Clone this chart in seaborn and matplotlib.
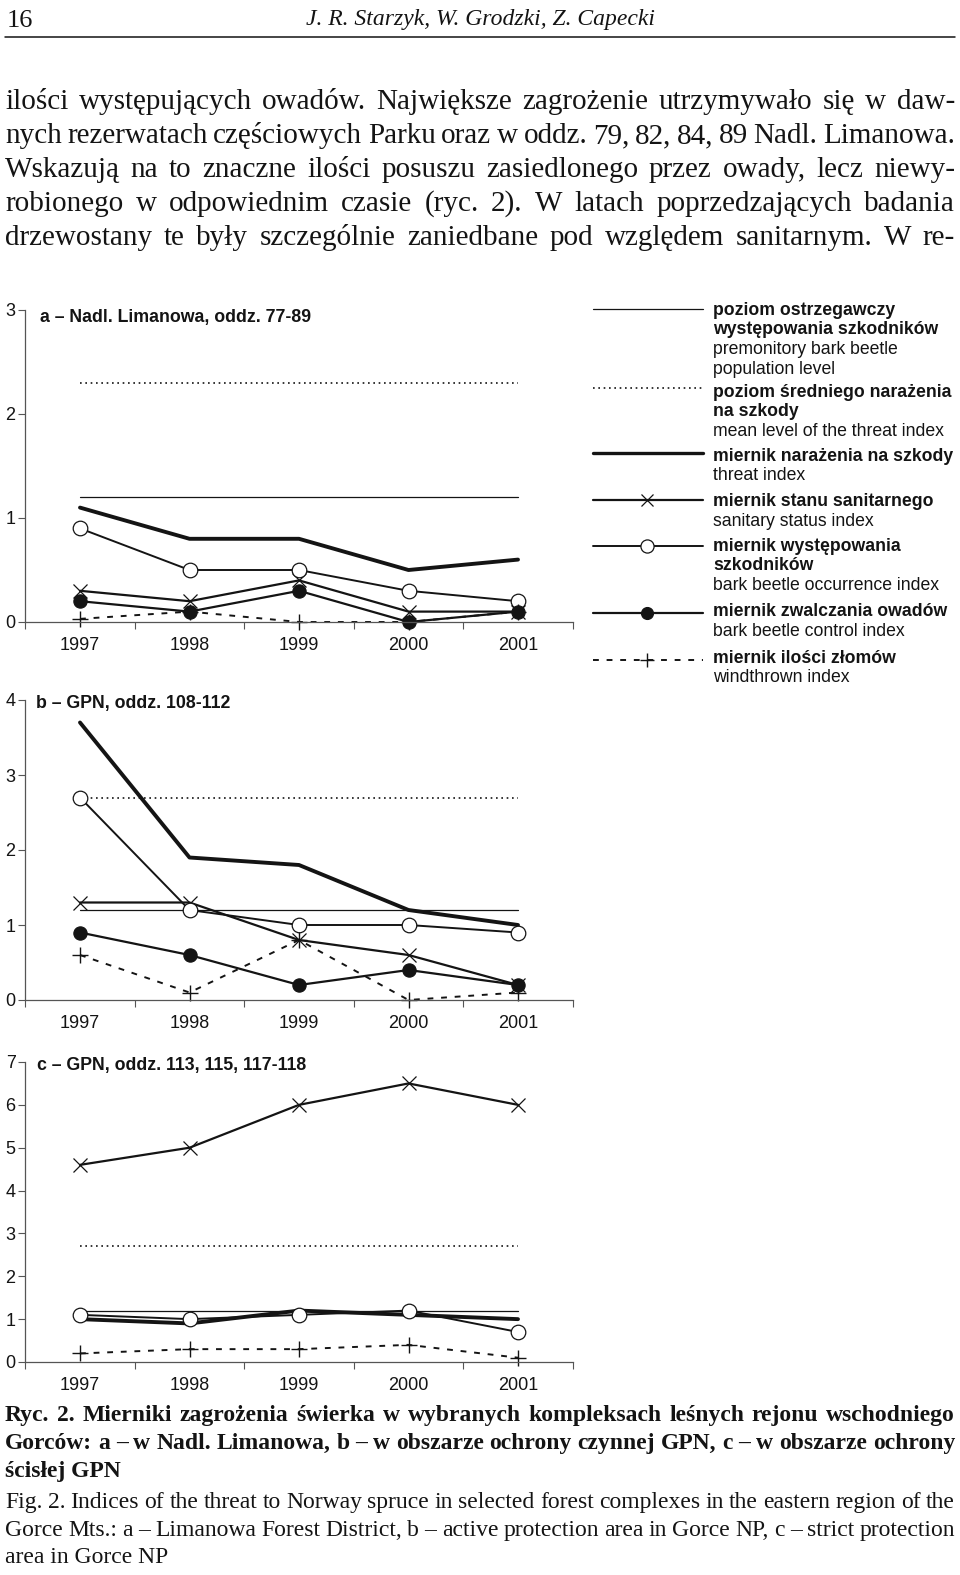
import matplotlib
matplotlib.use('Agg')
import matplotlib.pyplot as plt
import seaborn as sns
import pandas as pd

# ---- data ----
years = [1997, 1998, 1999, 2000, 2001]

a_premonitory = [1.2, 1.2, 1.2, 1.2, 1.2]
a_mean_level = [2.3, 2.3, 2.3, 2.3, 2.3]
a_threat = [1.1, 0.8, 0.8, 0.5, 0.6]
a_sanitary = [0.3, 0.2, 0.4, 0.1, 0.1]
a_occurrence = [0.9, 0.5, 0.5, 0.3, 0.2]
a_control = [0.2, 0.1, 0.3, 0.0, 0.1]
a_windthrown = [0.03, 0.1, 0.0, 0.0, 0.1]

b_premonitory = [1.2, 1.2, 1.2, 1.2, 1.2]
b_mean_level = [2.7, 2.7, 2.7, 2.7, 2.7]
b_threat = [3.7, 1.9, 1.8, 1.2, 1.0]
b_sanitary = [1.3, 1.3, 0.8, 0.6, 0.2]
b_occurrence = [2.7, 1.2, 1.0, 1.0, 0.9]
b_control = [0.9, 0.6, 0.2, 0.4, 0.2]
b_windthrown = [0.6, 0.1, 0.8, 0.0, 0.1]

c_premonitory = [1.2, 1.2, 1.2, 1.2, 1.2]
c_mean_level = [2.7, 2.7, 2.7, 2.7, 2.7]
c_threat = [1.0, 0.9, 1.2, 1.1, 1.0]
c_sanitary = [4.6, 5.0, 6.0, 6.5, 6.0]
c_occurrence = [1.1, 1.0, 1.1, 1.2, 0.7]
c_windthrown = [0.2, 0.3, 0.3, 0.4, 0.1]

panel_titles = ['a – Nadl. Limanowa, oddz. 77-89',
                'b – GPN, oddz. 108-112',
                'c – GPN, oddz. 113, 115, 117-118']
panel_ymax = [3, 4, 7]

para_lines = [
    'ilości występujących owadów. Największe zagrożenie utrzymywało się w daw-',
    'nych rezerwatach częściowych Parku oraz w oddz. 79, 82, 84, 89 Nadl. Limanowa.',
    'Wskazują na to znaczne ilości posuszu zasiedlonego przez owady, lecz niewy-',
    'robionego w odpowiednim czasie (ryc. 2). W latach poprzedzających badania',
    'drzewostany te były szczególnie zaniedbane pod względem sanitarnym. W re-',
]
caption_pl = [
    'Ryc. 2. Mierniki zagrożenia świerka w wybranych kompleksach leśnych rejonu wschodniego',
    'Gorców: a – w Nadl. Limanowa, b – w obszarze ochrony czynnej GPN, c – w obszarze ochrony',
    'ścisłej GPN',
]
caption_en = [
    'Fig. 2. Indices of the threat to Norway spruce in selected forest complexes in the eastern region of the',
    'Gorce Mts.: a – Limanowa Forest District, b – active protection area in Gorce NP, c – strict protection',
    'area in Gorce NP',
]
legend_entries = [
    (['poziom ostrzegawczy', 'występowania szkodników'], ['premonitory bark beetle', 'population level']),
    (['poziom średniego narażenia', 'na szkody'], ['mean level of the threat index']),
    (['miernik narażenia na szkody'], ['threat index']),
    (['miernik stanu sanitarnego'], ['sanitary status index']),
    (['miernik występowania', 'szkodników'], ['bark beetle occurrence index']),
    (['miernik zwalczania owadów'], ['bark beetle control index']),
    (['miernik ilości złomów'], ['windthrown index']),
]

# ---- styling ----
sns.set_style('ticks')
plt.rcParams['font.family'] = ['Liberation Sans', 'DejaVu Sans']
INK = '#141414'

styles = {
    'premonitory': dict(lw=0.9, ls='-', marker=None),
    'mean': dict(lw=1.2, ls=(0, (1, 2.2)), marker=None),
    'threat': dict(lw=2.8, ls='-', marker=None),
    'sanitary': dict(lw=1.6, ls='-', marker='x', ms=9.5, mew=0.9, mfc=INK, mec=INK),
    'occurrence': dict(lw=1.4, ls='-', marker='o', ms=10.5, mew=0.9, mfc='white', mec=INK),
    'control': dict(lw=1.6, ls='-', marker='o', ms=9.5, mew=0.9, mfc=INK, mec=INK),
    'windthrown': dict(lw=1.4, ls=(0, (3, 4)), marker='+', ms=11, mew=1.0, mfc=INK, mec=INK),
}

W, H = 960, 1575
fig = plt.figure(figsize=(W / 100, H / 100), dpi=100)

panels = [
    {'premonitory': a_premonitory, 'mean': a_mean_level, 'threat': a_threat,
     'sanitary': a_sanitary, 'occurrence': a_occurrence, 'control': a_control,
     'windthrown': a_windthrown},
    {'premonitory': b_premonitory, 'mean': b_mean_level, 'threat': b_threat,
     'sanitary': b_sanitary, 'occurrence': b_occurrence, 'control': b_control,
     'windthrown': b_windthrown},
    {'premonitory': c_premonitory, 'mean': c_mean_level, 'threat': c_threat,
     'sanitary': c_sanitary, 'occurrence': c_occurrence,
     'windthrown': c_windthrown},
]
# pixel extents of each plot (top, bottom)
panel_px = [(310, 622), (700, 1000), (1062, 1362)]
title_px = [(40, 322), (36, 708), (37, 1070)]
left_px, right_px = 25.25, 572.75

for series, (top, bot), ymax in zip(panels, panel_px, panel_ymax):
    ax = fig.add_axes([left_px / W, 1 - bot / H, (right_px - left_px) / W, (bot - top) / H])
    for name, vals in series.items():
        st = dict(styles[name])
        df = pd.DataFrame({'year': years, 'value': vals})
        kw = dict(color=INK, linewidth=st['lw'], linestyle=st['ls'], clip_on=False)
        if st['marker']:
            kw.update(marker=st['marker'], markersize=st['ms'], markeredgewidth=st['mew'],
                      markerfacecolor=st['mfc'], markeredgecolor=st['mec'])
        sns.lineplot(data=df, x='year', y='value', ax=ax, **kw)
    ax.set_xlim(1996.5, 2001.5)
    ax.set_ylim(0, ymax)
    ax.set_xticks([1996.5, 1997.5, 1998.5, 1999.5, 2000.5, 2001.5])
    ax.set_xticklabels([])
    ax.set_xticks(years, minor=True)
    ax.set_xticklabels([str(y) for y in years], minor=True, fontsize=13, color=INK)
    ax.tick_params(axis='x', which='minor', length=0, pad=11)
    ax.tick_params(axis='x', which='major', length=5, width=0.8, color='#555555', direction='out')
    ax.set_yticks(range(ymax + 1))
    ax.tick_params(axis='y', length=5, width=0.8, color='#555555', labelsize=13, labelcolor=INK, pad=2)
    ax.set_xlabel('')
    ax.set_ylabel('')
    sns.despine(ax=ax)
    for sp in ['left', 'bottom']:
        ax.spines[sp].set_color('#555555')
        ax.spines[sp].set_linewidth(0.9)
    ax.patch.set_alpha(0)

# ---- page overlay in pixel coordinates ----
page = fig.add_axes([0, 0, 1, 1])
page.set_xlim(0, W)
page.set_ylim(H, 0)
page.axis('off')
page.patch.set_alpha(0)
renderer = fig.canvas.get_renderer()


def text_width(s, size, **kw):
    t = page.text(0, 0, s, fontsize=size, **kw)
    w = t.get_window_extent(renderer).width
    t.remove()
    return w


def block(lines, baselines, size, justify_flags, x0=5, x1=955, min_gap=3.5, **kw):
    # shrink the block's font until its widest justified line fits
    for line, j in zip(lines, justify_flags):
        if j:
            words = line.split(' ')
            need = sum(text_width(w, size, **kw) for w in words) + min_gap * (len(words) - 1)
            if need > x1 - x0:
                size *= (x1 - x0) / need
    for line, y, j in zip(lines, baselines, justify_flags):
        if not j:
            page.text(x0, y, line, fontsize=size, va='baseline', ha='left', color=INK, **kw)
            continue
        words = line.split(' ')
        widths = [text_width(w, size, **kw) for w in words]
        gap = (x1 - x0 - sum(widths)) / (len(words) - 1)
        x = x0
        for w, wd in zip(words, widths):
            page.text(x, y, w, fontsize=size, va='baseline', ha='left', color=INK, **kw)
            x += wd + gap


serif = ['Liberation Serif', 'DejaVu Serif']

# header
page.text(7, 27, '16', fontsize=19, family=serif, va='baseline', color=INK)
page.text(480, 25, 'J. R. Starzyk, W. Grodzki, Z. Capecki', fontsize=17, family=serif,
          style='italic', ha='center', va='baseline', color=INK)
page.plot([5, 955], [37, 37], color=INK, lw=1.1)

# paragraph
block(para_lines, [109, 143, 177, 211, 245], 21, [True] * 5, min_gap=5, family=serif)

# caption
block(caption_pl, [1421, 1449, 1477], 17, [True, True, False], family=serif, weight='bold')
block(caption_en, [1508, 1536, 1563], 17, [True, True, False], family=serif)

# panel titles
for title, (tx, ty) in zip(panel_titles, title_px):
    page.text(tx, ty, title, fontsize=12.8, weight='bold', va='baseline', color=INK)

# legend
legend_y = [309, 388, 453, 500, 546, 613, 660]
legend_text_y = [315, 397, 461, 506, 551, 616, 663]
order = ['premonitory', 'mean', 'threat', 'sanitary', 'occurrence', 'control', 'windthrown']
for name, ly, tyy, (bold, normal) in zip(order, legend_y, legend_text_y, legend_entries):
    st = styles[name]
    page.plot([593, 703], [ly, ly], color=INK, lw=min(st['lw'], 2.0) if name != 'threat' else 2.4,
              ls=st['ls'])
    if st['marker']:
        page.plot([647], [ly], marker=st['marker'], ms=st['ms'] * 0.9, mew=st['mew'],
                  mfc=st['mfc'], mec=st['mec'], ls='none')
    yy = tyy
    for s in bold:
        page.text(713, yy, s, fontsize=12.7, weight='bold', va='baseline', color=INK)
        yy += 19.5
    for s in normal:
        page.text(713, yy, s, fontsize=12.7, va='baseline', color=INK)
        yy += 19.5

fig.savefig('out.png', dpi=100, facecolor='white')
